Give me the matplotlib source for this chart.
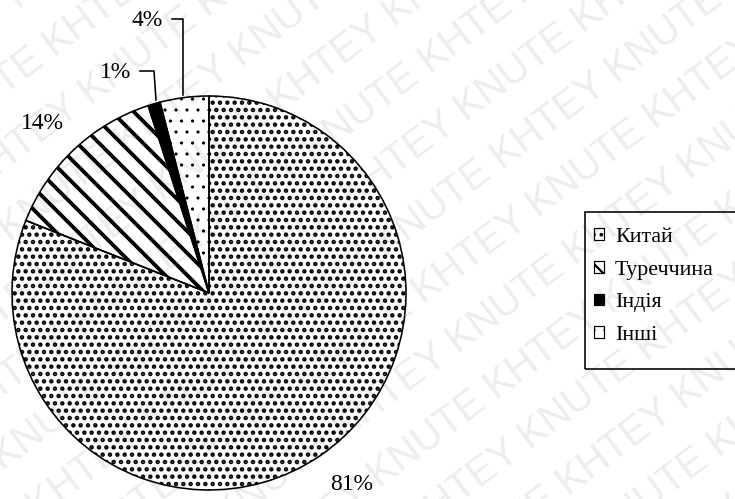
import numpy as np
import matplotlib
matplotlib.use("Agg")
import matplotlib.pyplot as plt
from matplotlib.patches import Patch, Rectangle

# data
countries = ["Китай", "Туреччина", "Індія", "Інші"]
shares = [81, 14, 1, 4]
share_labels = ["81%", "14%", "1%", "4%"]

# hatch styles per slice
hatches = ["...", "\\\\", "", ".."]
face_colors = ["none", "none", "black", "none"]
hatch_widths = [1.6, 2.1, 0.5, 0.5]

W, H, DPI = 735, 499, 132
plt.rcParams["font.family"] = ["Liberation Serif", "DejaVu Serif"]


def fy(y):
    # pixel row (from top) -> axes y (from bottom)
    return H - y


def pt(px):
    return px * 72 / DPI


fig = plt.figure(figsize=(W / DPI, H / DPI), dpi=DPI)
ax = fig.add_axes([0, 0, 1, 1])

# watermark
ang = 37
perp = np.array([-np.sin(np.radians(ang)), np.cos(np.radians(ang))])
base = np.array([380.0, 250.0])
for k in range(-8, 9):
    word = "KHTEY KNUTE " if k % 2 == 0 else "KNUTE KHTEY "
    cx, cy = base + k * 60 * perp
    ax.text(cx, cy, word * 5, rotation=ang, rotation_mode="anchor",
            ha="center", va="center", fontsize=pt(40), color="#ededed",
            family="Liberation Sans", zorder=0)

wedges, _ = ax.pie(
    shares,
    startangle=90,
    counterclock=False,
    center=(209, fy(293)),
    radius=197,
    colors=face_colors,
    wedgeprops=dict(edgecolor="black", linewidth=pt(1.6)),
    frame=True,
)
for w, h, hw in zip(wedges, hatches, hatch_widths):
    w.set_hatch(h)
    w.set_hatch_linewidth(hw)
    w.set_zorder(2)

ax.set_xlim(0, W)
ax.set_ylim(0, H)
ax.set_aspect("auto")
ax.axis("off")

# percentage labels and leader lines
label_pos = {"81%": (352, 485), "14%": (42, 123), "1%": (116, 72), "4%": (147, 20)}
for lab in share_labels:
    x, y = label_pos[lab]
    ax.text(x, fy(y), lab, ha="center", va="center", fontsize=pt(23.5), zorder=3)

ax.plot([140, 154, 156], [fy(71), fy(71), fy(100)], color="black", lw=pt(1.6), zorder=3)
ax.plot([172, 183, 183], [fy(19), fy(19), fy(95)], color="black", lw=pt(1.6), zorder=3)

# legend (frame drawn separately, it runs off the right edge)
handles = []
for fc, h, hw in zip(face_colors, hatches, hatch_widths):
    p = Patch(facecolor=fc, edgecolor="black", hatch=h, linewidth=pt(1.2))
    handles.append(p)
leg = ax.legend(
    handles, countries,
    loc="upper left",
    bbox_to_anchor=(594 / W, 1 - 228 / H),
    bbox_transform=fig.transFigure,
    borderaxespad=0,
    borderpad=0,
    fontsize=pt(22),
    frameon=False,
    handlelength=0.45,
    handleheight=0.45,
    handletextpad=0.5,
    labelspacing=0.62,
)
for p, hw in zip(leg.get_patches(), hatch_widths):
    p.set_hatch_linewidth(min(hw, 1.2))

ax.add_patch(Rectangle((585, fy(369)), 170, 157, facecolor="none",
                       edgecolor="black", linewidth=pt(1.6), zorder=3))

fig.savefig("out.png", dpi=DPI)
